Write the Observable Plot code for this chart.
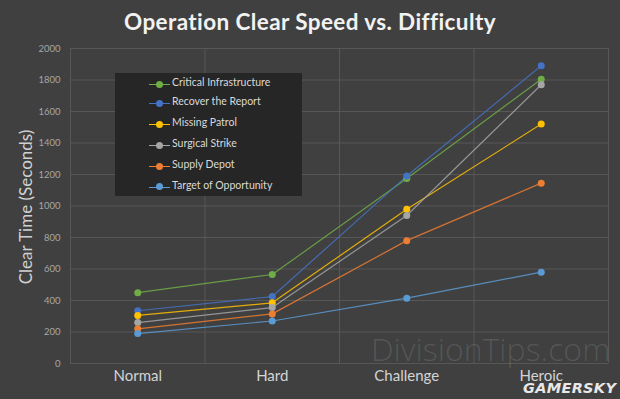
<!DOCTYPE html>
<html><head><meta charset="utf-8">
<script src="https://cdn.jsdelivr.net/npm/d3@7"></script>
<script src="https://cdn.jsdelivr.net/npm/@observablehq/plot@0.6"></script>
<style>
html,body{margin:0;padding:0;background:#404040;}
#wrap{position:relative;width:620px;height:399px;background:#404040;overflow:hidden;font-family:Lato,"Open Sans",sans-serif;}
#title{height:40px;line-height:44px;text-align:center;color:#f2f2f2;font-weight:700;font-size:22.5px;letter-spacing:0.4px;}
#chart svg{display:block;}
#ylabel{position:absolute;left:25px;top:207px;transform:translate(-50%,-50%) rotate(-90deg);color:#d0d0d0;font-size:17px;white-space:nowrap;}
#legend{position:absolute;left:115px;top:73px;width:187px;height:123px;background:#262626;}
.item{position:absolute;left:34px;height:14px;font-size:10.5px;color:#d9d9d9;white-space:nowrap;}
.item .ln{position:absolute;left:0;top:7px;width:21px;height:1px;}
.item .dt{position:absolute;left:7px;top:3.5px;width:7px;height:7px;border-radius:50%;}
.item .tx{position:absolute;left:23px;top:-1px;}
#wm{position:absolute;left:371px;top:333px;font-size:32px;line-height:32px;font-weight:300;color:rgba(255,255,255,0.12);font-family:"Open Sans",Lato,sans-serif;}
#gs{position:absolute;left:523px;top:380px;font-size:14.5px;line-height:16px;font-weight:900;font-style:italic;color:#e8e8e8;font-family:"DejaVu Sans",sans-serif;letter-spacing:0.3px;}
</style></head>
<body>
<div id="wrap">
  <div id="title">Operation Clear Speed vs. Difficulty</div>
  <div id="chart"></div>
  <div id="ylabel">Clear Time (Seconds)</div>
  <div id="legend"></div>
  <div id="wm">DivisionTips.com</div>
  <div id="gs">GAMERSKY</div>
</div>
<script>
const difficulties = ["Normal", "Hard", "Challenge", "Heroic"];
const operations = ["Critical Infrastructure", "Recover the Report", "Missing Patrol", "Surgical Strike", "Supply Depot", "Target of Opportunity"];
const colors = ["#70ad47", "#4472c4", "#ffc000", "#a5a5a5", "#ed7d31", "#5b9bd5"];
const criticalInfrastructure = [450, 565, 1175, 1805];
const recoverTheReport = [335, 425, 1190, 1890];
const missingPatrol = [305, 385, 980, 1520];
const surgicalStrike = [260, 355, 940, 1770];
const supplyDepot = [220, 315, 780, 1145];
const targetOfOpportunity = [190, 270, 415, 580];
const yTicks = [0, 200, 400, 600, 800, 1000, 1200, 1400, 1600, 1800, 2000];

const series = [criticalInfrastructure, recoverTheReport, missingPatrol, surgicalStrike, supplyDepot, targetOfOpportunity];
const data = operations.flatMap((op, s) => series[s].map((v, i) => ({op, i, v})));
const idx = difficulties.map((d, i) => i);
const bounds = [-0.5, ...idx.map(i => i + 0.5)];

const chart = Plot.plot({
  width: 620, height: 359,
  marginTop: 8, marginBottom: 36, marginLeft: 70, marginRight: 12,
  style: {background: "#404040", fontFamily: "Lato, sans-serif"},
  x: {type: "linear", domain: [-0.5, 3.5]},
  y: {domain: [0, 2000]},
  color: {domain: operations, range: colors},
  marks: [
    Plot.ruleY(yTicks, {stroke: "#575757", strokeWidth: 1}),
    Plot.ruleX(bounds, {stroke: "#575757", strokeWidth: 1}),
    Plot.axisY(yTicks, {tickSize: 0, tickPadding: 10, fontSize: 9.5, fill: "#a6a6a6", label: null, tickFormat: d => String(d)}),
    Plot.axisX(idx, {tickSize: 0, tickPadding: 7, fontSize: 15, fill: "#d4d4d4", label: null, tickFormat: i => difficulties[i]}),
    Plot.line(data, {x: "i", y: "v", z: "op", stroke: "op", strokeWidth: 1.2, strokeOpacity: 0.85}),
    Plot.dot(data, {x: "i", y: "v", fill: "op", r: 3.5})
  ]
});
document.getElementById("chart").appendChild(chart);

const legend = document.getElementById("legend");
const rowTops = [11, 30, 51, 72, 93, 113.5];
operations.forEach((op, s) => {
  const el = document.createElement("div");
  el.className = "item";
  el.style.top = rowTops[s] - 7 + "px";
  el.innerHTML = `<div class="ln" style="background:${colors[s]}"></div><div class="dt" style="background:${colors[s]}"></div><div class="tx">${op}</div>`;
  legend.appendChild(el);
});
</script>
</body></html>
